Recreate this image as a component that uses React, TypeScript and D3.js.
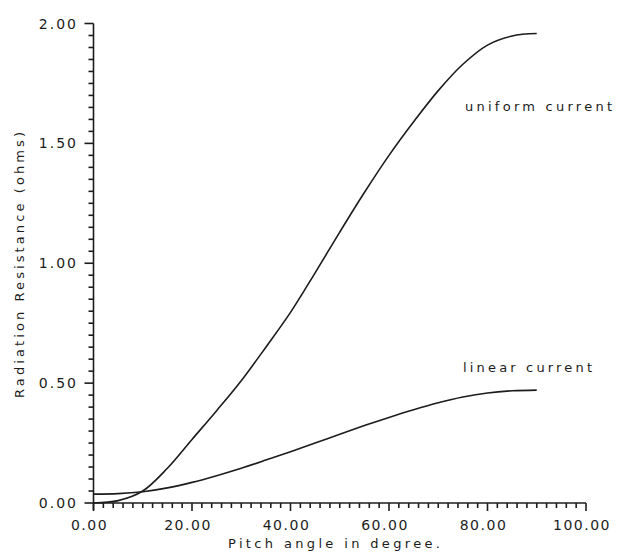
import React from "react";
import * as d3 from "d3";

// pitch angle (deg) and radiation resistance (ohms)
const angles = [0, 5, 10, 15, 20, 25, 30, 35, 40, 45, 50, 55, 60, 65, 70, 75, 80, 85, 90];
const uniformCurrent = [0.0, 0.01, 0.05, 0.145, 0.265, 0.385, 0.51, 0.65, 0.795, 0.96, 1.13, 1.295, 1.45, 1.59, 1.72, 1.83, 1.91, 1.948, 1.958];
const linearCurrent = [0.037, 0.039, 0.047, 0.063, 0.086, 0.114, 0.145, 0.179, 0.214, 0.25, 0.287, 0.323, 0.357, 0.389, 0.418, 0.442, 0.459, 0.468, 0.471];

const xTicks = [0, 20, 40, 60, 80, 100];
const yTicks = [0, 0.5, 1.0, 1.5, 2.0];

const W = 617;
const H = 552;
const font = "'DejaVu Sans', sans-serif";
const ink = "#1c1c1c";

const App = () => {
  const x = d3.scaleLinear().domain([0, 100]).range([93.5, 586]);
  const y = d3.scaleLinear().domain([0, 2]).range([503, 23.5]);
  const fmt = d3.format(".2f");

  const line = d3
    .line<number>()
    .x((d, i) => x(angles[i]))
    .y((d) => y(d))
    .curve(d3.curveCatmullRom);

  const xMinor = d3.range(0, 100.001, 2);
  const yMinor = d3.range(0, 2.0001, 0.05);

  return (
    <svg
      width={W}
      height={H}
      style={{ position: "absolute", left: 0, top: 0, background: "#fff" }}
    >
      {/* axes */}
      <g stroke={ink} strokeWidth={1.6} fill="none">
        <line x1={x(0)} x2={x(100)} y1={y(0)} y2={y(0)} />
        <line x1={x(0)} x2={x(0)} y1={y(0) + 7} y2={y(2)} />
        {xMinor.map((v) => (
          <line key={"xm" + v} x1={x(v)} x2={x(v)} y1={y(0)} y2={y(0) + (v % 20 === 0 ? 8 : 5)} />
        ))}
        {yMinor.map((v) => (
          <line
            key={"ym" + v}
            x1={x(0) - (Math.abs(v * 2 - Math.round(v * 2)) < 1e-6 ? 9 : 5)}
            x2={x(0)}
            y1={y(v)}
            y2={y(v)}
          />
        ))}
      </g>

      {/* tick labels */}
      <g fill={ink} fontFamily={font} fontSize={14}>
        {xTicks.map((v) => (
          <text key={"xt" + v} x={x(v) - 4} y={530} textAnchor="middle" letterSpacing={1.5}>
            {fmt(v)}
          </text>
        ))}
        {yTicks.map((v) => (
          <text key={"yt" + v} x={78} y={y(v) + 5} textAnchor="end" letterSpacing={2}>
            {fmt(v)}
          </text>
        ))}
      </g>

      {/* curves */}
      <g fill="none" stroke={ink} strokeWidth={1.6}>
        <path d={line(uniformCurrent) ?? ""} />
        <path d={line(linearCurrent) ?? ""} />
      </g>

      {/* annotations */}
      <g fill={ink} fontFamily={font} fontSize={13}>
        <text x={465} y={111} textLength={147} lengthAdjust="spacing">
          uniform current
        </text>
        <text x={463} y={372} textLength={129} lengthAdjust="spacing">
          linear current
        </text>
      </g>

      {/* axis titles */}
      <g fill={ink} fontFamily={font} fontSize={13}>
        <text x={228} y={548} textLength={212} lengthAdjust="spacing">
          Pitch angle in degree.
        </text>
        <text
          transform="translate(24,265) rotate(-90)"
          textAnchor="middle"
          textLength={266}
          lengthAdjust="spacing"
        >
          Radiation Resistance (ohms)
        </text>
      </g>
    </svg>
  );
};

export default App;
